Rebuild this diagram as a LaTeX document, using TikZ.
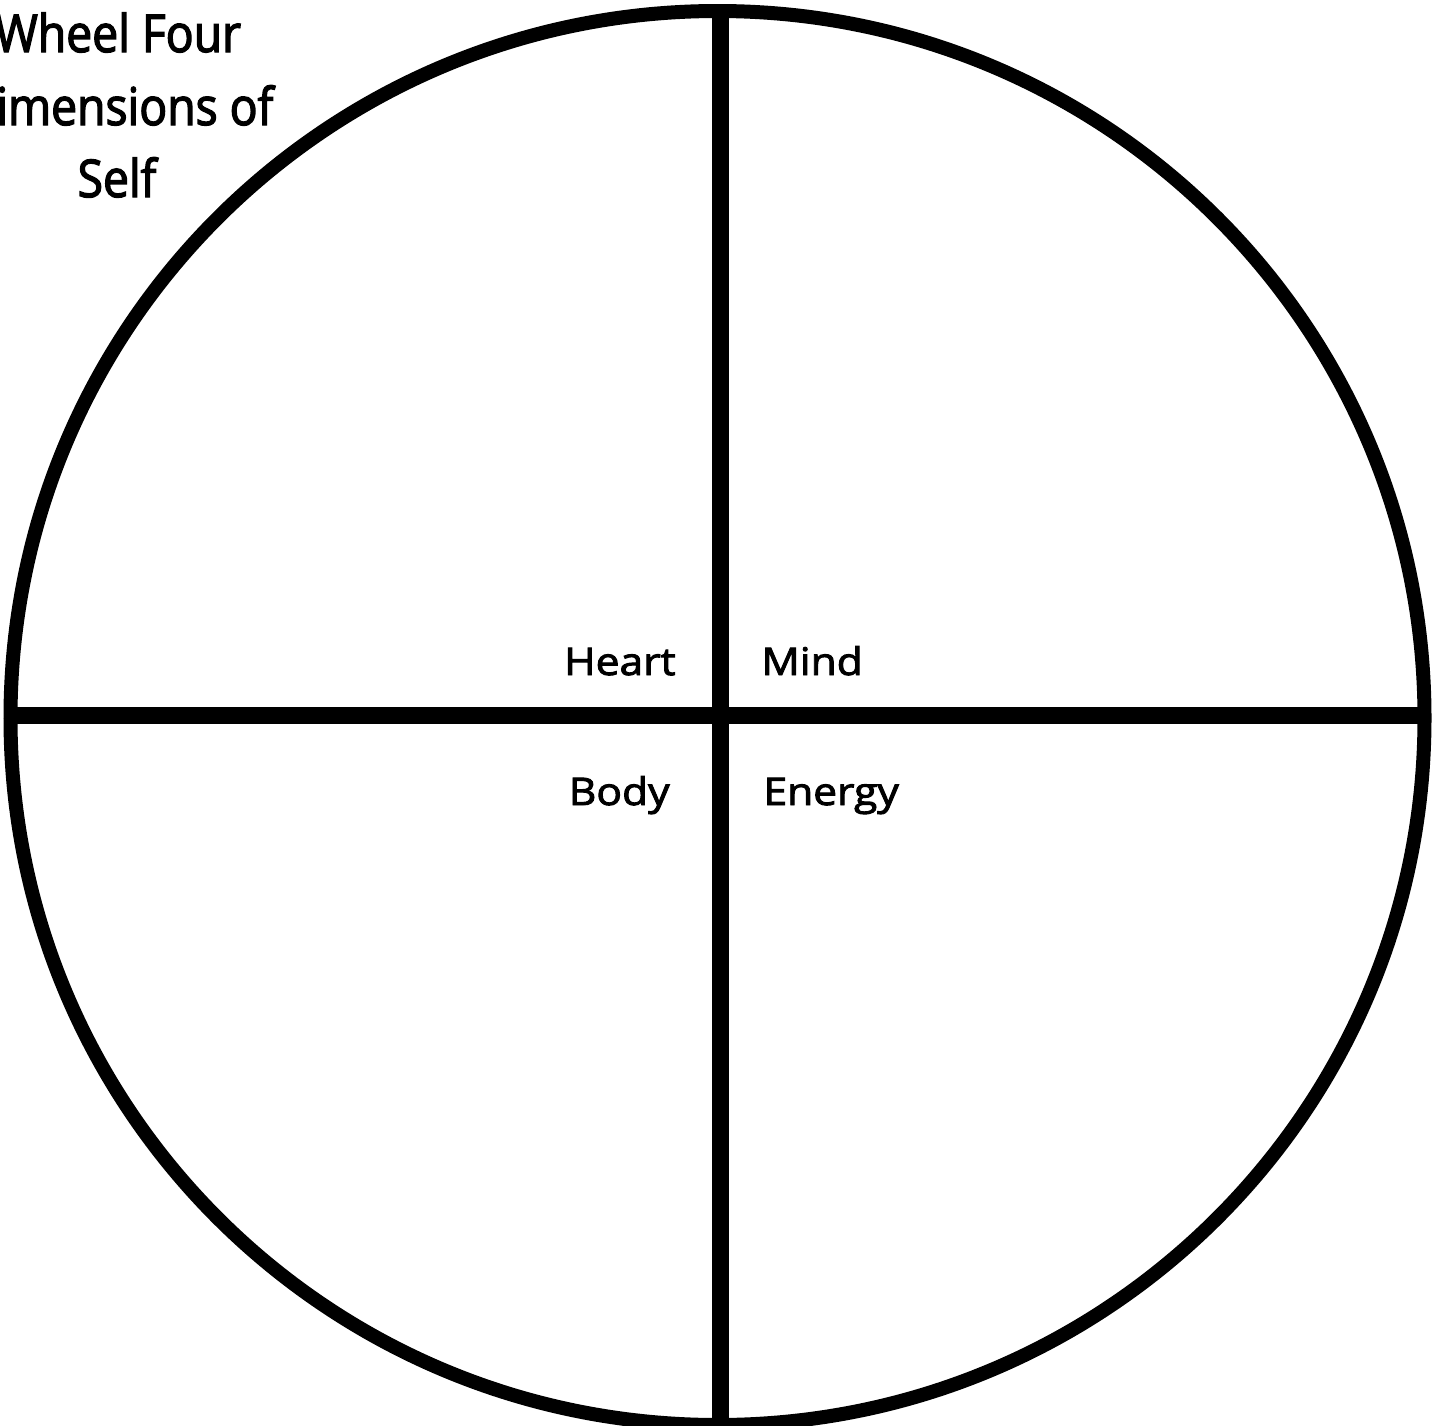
\documentclass[tikz,border=0pt]{standalone}
\usepackage{fontspec}
\setmainfont{Open Sans}
\newfontfamily\labelfont[FakeStretch=1.12,FakeBold=2.5]{Open Sans}
\newfontfamily\titlefont[FakeStretch=0.89,FakeBold=2.5]{Open Sans}
\begin{document}
\begin{tikzpicture}[x=0.5pt,y=-0.5pt,
  wheel/.style={line width=7pt,draw=black},
  divider/.style={line width=8.5pt,draw=black},
  label/.style={inner sep=0pt,font=\labelfont\fontsize{19}{22}\selectfont},
  titletext/.style={inner sep=0pt,anchor=base,font=\titlefont\fontsize{26}{30}\selectfont}]
\useasboundingbox (0,0) rectangle (1441,1425);
\clip (0,0) rectangle (1441,1425);
\fill[white] (0,0) rectangle (1441,1425);
\coordinate (c) at (717.5,718);
\draw[wheel] (c) circle[radius=707];
\coordinate (top) at (720.5,11);
\coordinate (bottom) at (720.5,1430);
\coordinate (left) at (11,715.5);
\coordinate (right) at (1424,715.5);
\draw[divider] (top) -- (bottom);
\draw[divider] (left) -- (right);
\node[label,anchor=base east] (heart) at (676,675) {Heart};
\node[label,anchor=base west] (mind) at (761,675) {Mind};
\node[label,anchor=base east] (body) at (670,805) {Body};
\node[label,anchor=base west] (energy) at (763,805) {Energy};
\node[titletext] (t1) at (118,52) {Wheel Four};
\node[titletext] (t2) at (118,125) {Dimensions of};
\node[titletext] (t3) at (117,197) {Self};
\end{tikzpicture}
\end{document}
